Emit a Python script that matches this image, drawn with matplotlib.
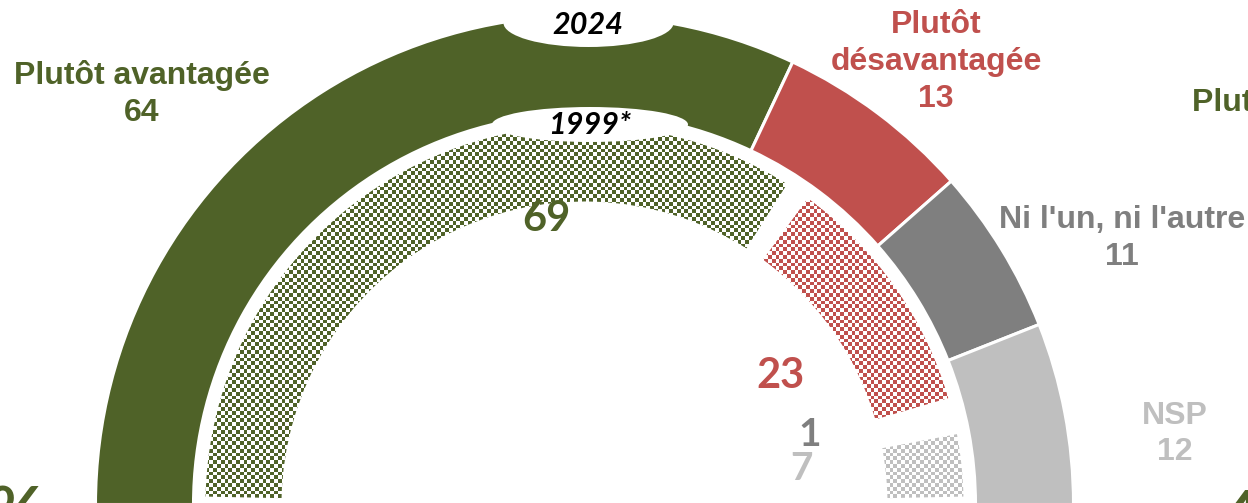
import matplotlib
matplotlib.use("Agg")
import matplotlib.pyplot as plt
import matplotlib.colors as mcolors
from matplotlib.patches import Wedge, Ellipse
import numpy as np

# ---------------- data ----------------
categories = ["Plutôt avantagée", "Plutôt\ndésavantagée", "Ni l'un, ni l'autre", "NSP"]
values_2024 = [64, 13, 11, 12]
values_1999 = [69, 23, 1, 7]
year_labels = ["2024", "1999*"]
colors = ["#4F6228", "#C0504D", "#7F7F7F", "#BFBFBF"]

# ---------------- figure ----------------
W, H = 1248, 503
fig = plt.figure(figsize=(W / 100, H / 100), dpi=100)
ax = fig.add_axes([0, 0, 1, 1])
ax.set_xlim(0, W)
ax.set_ylim(0, H)
ax.set_aspect("equal")
ax.axis("off")


def Y(img_y):
    return H - img_y


cx, cy = 584.5, -1.5

# outer ring (2024)
R_out, ring_w = 489, 98
start = 180.0
tot = sum(values_2024)
for v, c in zip(values_2024, colors):
    span = v / tot * 180.0
    ax.add_patch(Wedge((cx, cy), R_out, start - span, start, width=ring_w,
                       facecolor=c, edgecolor="white", linewidth=2.2, zorder=2))
    start -= span

# inner ring (1999) - checkered fill
yy, xx = np.mgrid[0:H, 0:W]
checker = ((np.floor(xx / 3.8) + np.floor(yy / 3.8)) % 2).astype(bool)


def checker_img(color):
    rgb = np.array(mcolors.to_rgb(color))
    img = np.ones((H, W, 3))
    img[checker] = rgb
    return img


r_o, r_w = 379, 76
gap = 1.9
end_gap = 1.2
start = 180.0
tot = sum(values_1999)
n = len(values_1999)
for i, (v, c) in enumerate(zip(values_1999, colors)):
    span = v / tot * 180.0
    t2 = start - (end_gap if i == 0 else gap)
    t1 = start - span + (end_gap if i == n - 1 else gap)
    start -= span
    if t2 - t1 <= 0.2:
        continue
    w = Wedge((cx, cy), r_o, t1, t2, width=r_w, facecolor="none",
              edgecolor="none", zorder=2)
    ax.add_patch(w)
    im = ax.imshow(checker_img(c), extent=(0, W, 0, H), origin="upper",
                   interpolation="nearest", zorder=2)
    im.set_clip_path(w)

ax.set_xlim(0, W)
ax.set_ylim(0, H)

# white ellipses with year labels
ax.add_patch(Ellipse((588.5, Y(23)), 170, 48, facecolor="white",
                     edgecolor="none", zorder=3))
ax.add_patch(Ellipse((590, Y(124.5)), 196, 35, facecolor="white",
                     edgecolor="none", zorder=3))
year_font = dict(family=["Lato", "DejaVu Sans"], fontweight="bold",
                 fontstyle="italic", fontsize=22, color="black", zorder=4,
                 ha="center", va="center")
ax.text(588, Y(25), year_labels[0], **year_font)
ax.text(590, Y(125), year_labels[1], **year_font)

# outer labels
lab_font = dict(family=["Liberation Sans", "DejaVu Sans"], fontweight="bold",
                fontsize=23, ha="center", va="center", zorder=4,
                linespacing=1.29)
lab_pos = [(142, 94), (936, 62), (1122, 238.5), (1175, 434)]
for cat, v, c, (px, py) in zip(categories, values_2024, colors, lab_pos):
    ax.text(px, Y(py), f"{cat}\n{v}", color=c, **lab_font)

# inner values
num_font = dict(family=["Lato", "DejaVu Sans"], fontweight="bold",
                ha="center", va="center", zorder=4)
num_pos = [(546.5, 219, 30), (781, 376, 30), (810, 435, 28), (801, 468, 28)]
for v, c, (px, py, fs) in zip(values_1999, colors, num_pos):
    ax.text(px, Y(py), f"{v}", color=c, fontsize=fs, **num_font)

# fragments of neighbouring charts (cropped)
ax.text(1192, Y(102), "Plutôt avantagée", color=colors[0], ha="left",
        va="center", **{k: lab_font[k] for k in ("family", "fontweight", "fontsize")})
ax.text(-12, Y(486), "%", color=colors[0], ha="left", va="top",
        family=["Lato", "DejaVu Sans"], fontweight="bold", fontsize=48)
ax.text(1222, Y(489), "4", color=colors[0], ha="left", va="top",
        family=["Lato", "DejaVu Sans"], fontweight="bold", fontsize=48)

fig.savefig("out.png", dpi=100)
